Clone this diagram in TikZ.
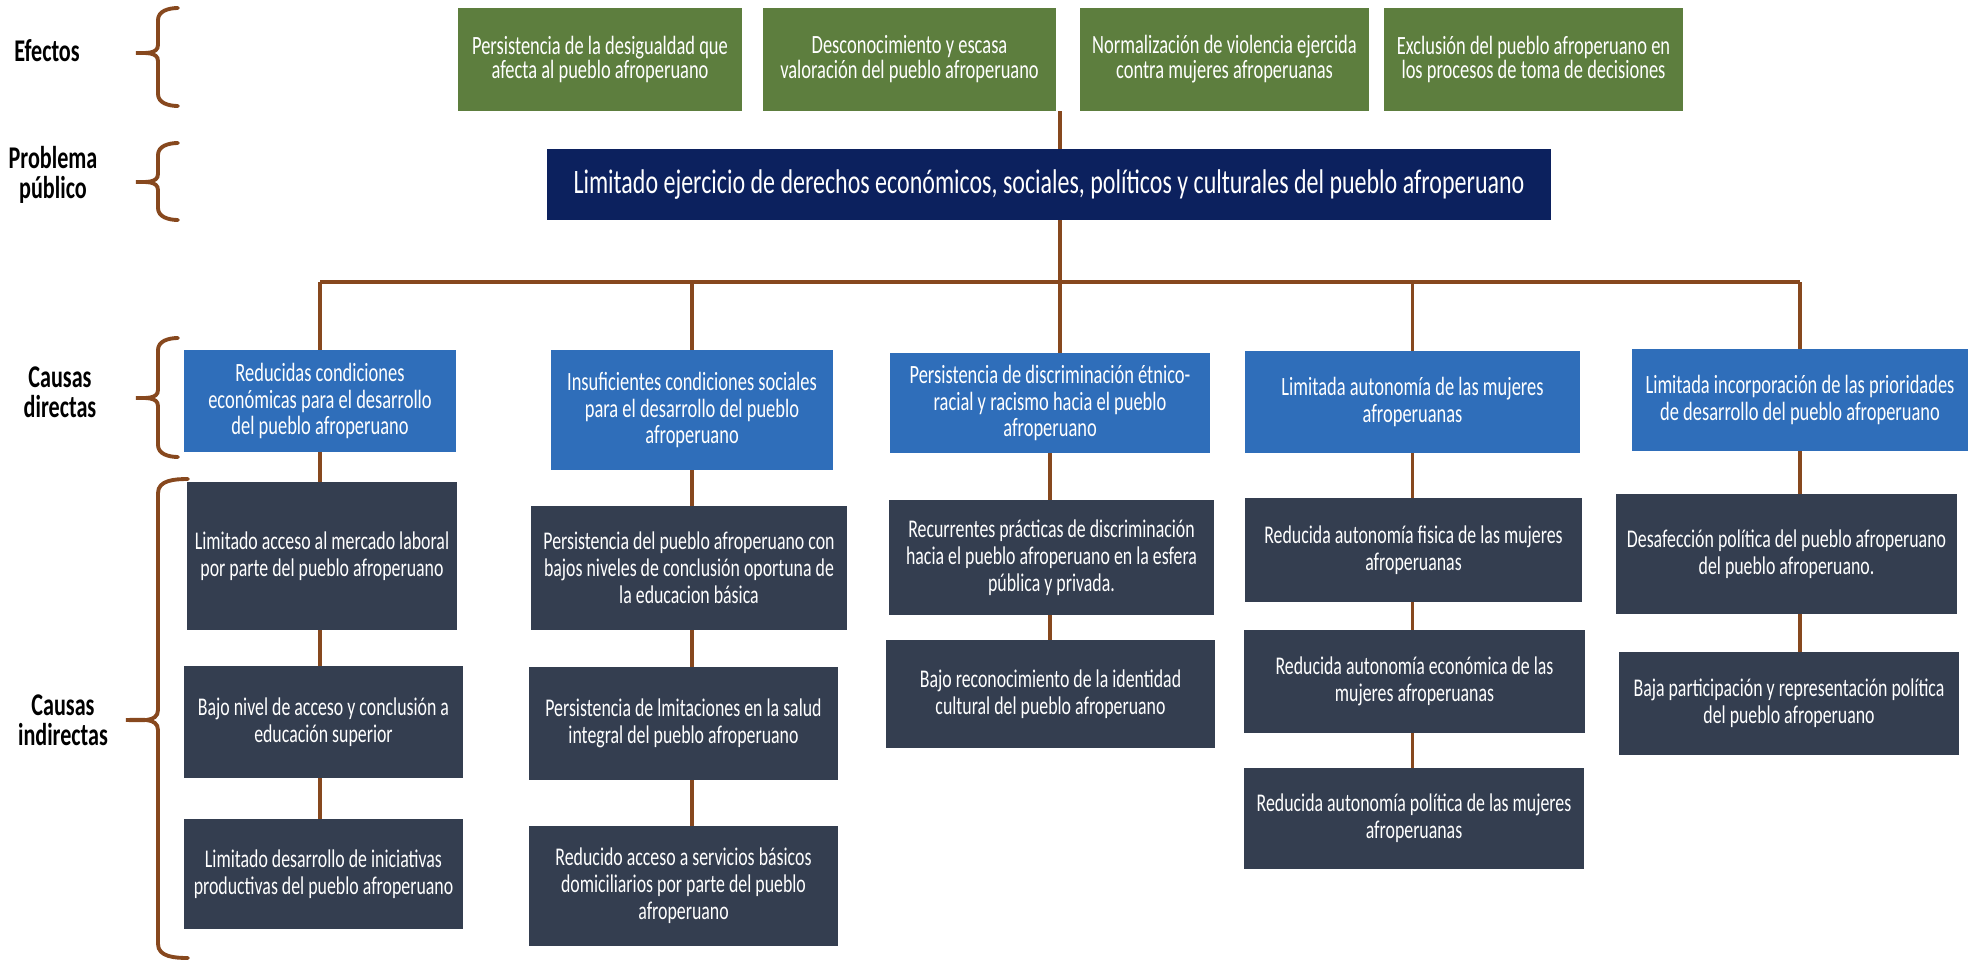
\documentclass[tikz,border=0pt]{standalone}
\usepackage{fontspec}
\setmainfont{Carlito}[FakeStretch=0.7]
\definecolor{efgreen}{RGB}{93,126,62}
\definecolor{probnavy}{RGB}{12,33,94}
\definecolor{cdblue}{RGB}{47,110,186}
\definecolor{cislate}{RGB}{52,62,80}
\definecolor{linebrown}{RGB}{135,72,30}
\begin{document}
\begin{tikzpicture}[x=0.02cm, y=-0.02cm,
    box/.style={rectangle, inner sep=2pt, text=white, align=center},
    efbox/.style={box, fill=efgreen, minimum height=2.06cm, font={\fontsize{15}{14.2}\selectfont}},
    probbox/.style={box, fill=probnavy, minimum height=1.42cm, font={\fontsize{19.5}{21}\selectfont}},
    cdbox/.style={box, fill=cdblue, font={\fontsize{15}{15.3}\selectfont}},
    cibox/.style={box, fill=cislate, font={\fontsize{14.5}{15.3}\selectfont}},
    rowlabel/.style={align=center, font={\fontsize{18}{17}\selectfont\bfseries}},
    conn/.style={draw=linebrown, line width=2pt},
    brace/.style={draw=linebrown, line width=2.2pt, line cap=round}]
  \useasboundingbox (0,0) rectangle (1977,963);

  \node[rowlabel] (lef) at (47,51) {Efectos};
  \node[rowlabel] (lprob) at (53,175) {Problema\\público};
  \node[rowlabel] (lcd) at (60,392) {Causas\\directas};
  \node[rowlabel] (lci) at (63,720) {Causas\\indirectas};

  \draw[brace] (178,8) to[out=180,in=90] (158,20) -- (158,45) to[out=-90,in=0] (136,53)
    to[out=0,in=90] (158,61) -- (158,94) to[out=-90,in=180] (178,106);
  \draw[brace] (178,143) to[out=180,in=90] (158,155) -- (158,174) to[out=-90,in=0] (136,182)
    to[out=0,in=90] (158,190) -- (158,208) to[out=-90,in=180] (178,220);
  \draw[brace] (178,338) to[out=180,in=90] (158,350) -- (158,390) to[out=-90,in=0] (136,398)
    to[out=0,in=90] (158,406) -- (158,445) to[out=-90,in=180] (178,457);
  \draw[brace] (188,479) to[out=180,in=90] (158,493) -- (158,710) to[out=-90,in=0] (126,720)
    to[out=0,in=90] (158,730) -- (158,944) to[out=-90,in=180] (188,958);

  \node[efbox, minimum width=5.68cm] (g1) at (600,59.5) {Persistencia de la desigualdad que\\afecta al pueblo afroperuano};
  \node[efbox, minimum width=5.86cm] (g2) at (909.5,59.5) {Desconocimiento y escasa\\valoración del pueblo afroperuano};
  \node[efbox, minimum width=5.78cm] (g3) at (1224.5,59.5) {Normalización de violencia ejercida\\contra mujeres afroperuanas};
  \node[efbox, minimum width=5.98cm] (g4) at (1533.5,59.5) {Exclusión del pueblo afroperuano en\\los procesos de toma de decisiones};

  \node[probbox, minimum width=20.08cm] (prob) at (1049,184.5) {Limitado ejercicio de derechos económicos, sociales, políticos y culturales del pueblo afroperuano};

  \node[cdbox, minimum width=5.44cm, minimum height=2.04cm] (b1) at (320,401) {Reducidas condiciones\\económicas para el desarrollo\\del pueblo afroperuano};
  \node[cdbox, minimum width=5.64cm, minimum height=2.4cm] (b2) at (692,410) {Insuficientes condiciones sociales\\para el desarrollo del pueblo\\afroperuano};
  \node[cdbox, minimum width=6.4cm, minimum height=2.0cm] (b3) at (1050,403) {Persistencia de discriminación étnico-\\racial y racismo hacia el pueblo\\afroperuano};
  \node[cdbox, minimum width=6.7cm, minimum height=2.04cm] (b4) at (1412.5,402) {Limitada autonomía de las mujeres\\afroperuanas};
  \node[cdbox, minimum width=6.72cm, minimum height=2.04cm] (b5) at (1800,400) {Limitada incorporación de las prioridades\\de desarrollo del pueblo afroperuano};

  \node[cibox, minimum width=5.4cm, minimum height=2.96cm] (d1a) at (322,556) {Limitado acceso al mercado laboral\\por parte del pueblo afroperuano};
  \node[cibox, minimum width=5.58cm, minimum height=2.24cm] (d1b) at (323.5,722) {Bajo nivel de acceso y conclusión a\\educación superior};
  \node[cibox, minimum width=5.58cm, minimum height=2.2cm] (d1c) at (323.5,874) {Limitado desarrollo de iniciativas\\productivas del pueblo afroperuano};

  \node[cibox, minimum width=6.32cm, minimum height=2.48cm] (d2a) at (689,568) {Persistencia del pueblo afroperuano con\\bajos niveles de conclusión oportuna de\\la educacion básica};
  \node[cibox, minimum width=6.18cm, minimum height=2.26cm] (d2b) at (683.5,723.5) {Persistencia de lmitaciones en la salud\\integral del pueblo afroperuano};
  \node[cibox, minimum width=6.18cm, minimum height=2.4cm] (d2c) at (683.5,886) {Reducido acceso a servicios básicos\\domiciliarios por parte del pueblo\\afroperuano};

  \node[cibox, minimum width=6.5cm, minimum height=2.3cm] (d3a) at (1051.5,557.5) {Recurrentes prácticas de discriminación\\hacia el pueblo afroperuano en la esfera\\pública y privada.};
  \node[cibox, minimum width=6.58cm, minimum height=2.16cm] (d3b) at (1050.5,694) {Bajo reconocimiento de la identidad\\cultural del pueblo afroperuano};

  \node[cibox, minimum width=6.74cm, minimum height=2.08cm] (d4a) at (1413.5,550) {Reducida autonomía fisica de las mujeres\\afroperuanas};
  \node[cibox, minimum width=6.82cm, minimum height=2.06cm] (d4b) at (1414.5,681.5) {Reducida autonomía económica de las\\mujeres afroperuanas};
  \node[cibox, minimum width=6.8cm, minimum height=2.02cm] (d4c) at (1414,818.5) {Reducida autonomía política de las mujeres\\afroperuanas};

  \node[cibox, minimum width=6.82cm, minimum height=2.4cm] (d5a) at (1786.5,554) {Desafección política del pueblo afroperuano\\del pueblo afroperuano.};
  \node[cibox, minimum width=6.8cm, minimum height=2.06cm] (d5b) at (1789,703.5) {Baja participación y representación política\\del pueblo afroperuano};

  \coordinate (bus) at (1060,282);
  \draw[conn] (bus |- g2.south) -- (bus |- prob.north);
  \draw[conn] (bus |- prob.south) -- (bus);
  \draw[conn] (b1.north |- bus) -- (b5.north |- bus);
  \draw[conn] (b1.north |- bus) -- (b1.north);
  \draw[conn] (b2.north |- bus) -- (b2.north);
  \draw[conn] (bus) -- (bus |- b3.north);
  \draw[conn] (b4.north |- bus) -- (b4.north);
  \draw[conn] (b5.north |- bus) -- (b5.north);

  \draw[conn] (b1.south) -- (b1.south |- d1a.north);
  \draw[conn] (b1.south |- d1a.south) -- (b1.south |- d1b.north);
  \draw[conn] (b1.south |- d1b.south) -- (b1.south |- d1c.north);
  \draw[conn] (b2.south) -- (b2.south |- d2a.north);
  \draw[conn] (b2.south |- d2a.south) -- (b2.south |- d2b.north);
  \draw[conn] (b2.south |- d2b.south) -- (b2.south |- d2c.north);
  \draw[conn] (b3.south) -- (b3.south |- d3a.north);
  \draw[conn] (b3.south |- d3a.south) -- (b3.south |- d3b.north);
  \draw[conn] (b4.south) -- (b4.south |- d4a.north);
  \draw[conn] (b4.south |- d4a.south) -- (b4.south |- d4b.north);
  \draw[conn] (b4.south |- d4b.south) -- (b4.south |- d4c.north);
  \draw[conn] (b5.south) -- (b5.south |- d5a.north);
  \draw[conn] (b5.south |- d5a.south) -- (b5.south |- d5b.north);
\end{tikzpicture}
\end{document}
